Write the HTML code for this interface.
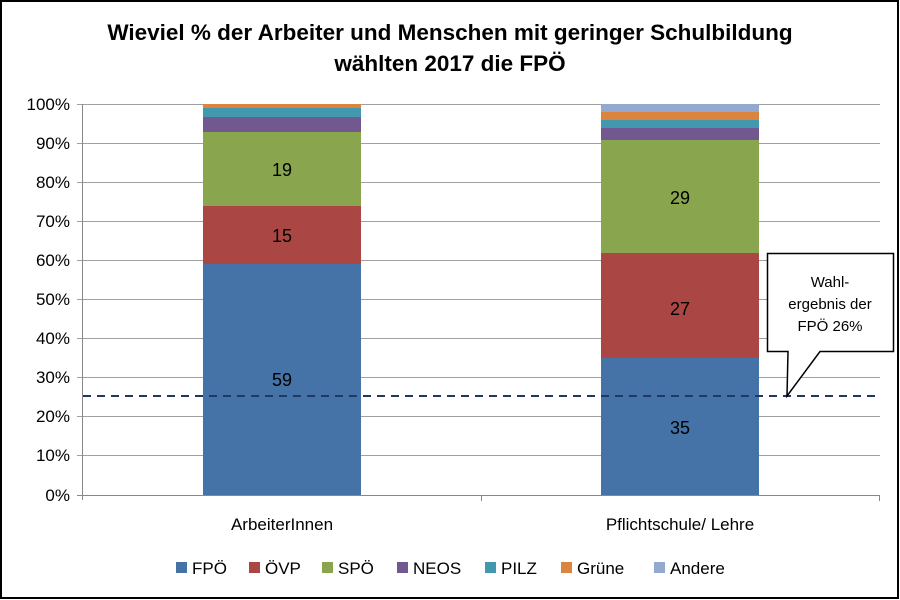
<!DOCTYPE html>
<html><head><meta charset="utf-8"><style>body{margin:0;background:#fff}svg{display:block}text{font-family:"Liberation Sans","DejaVu Sans",sans-serif}</style></head>
<body>
<svg width="900" height="600" viewBox="0 0 900 600">
<rect x="1" y="1" width="897" height="597" fill="#fff" stroke="#000" stroke-width="2"/>
<text x="450" y="40" text-anchor="middle" font-size="22.5" font-weight="bold">Wieviel % der Arbeiter und Menschen mit geringer Schulbildung</text>
<text x="450" y="71" text-anchor="middle" font-size="22.5" font-weight="bold">wählten 2017 die FPÖ</text>
<g stroke="#a0a0a0" stroke-width="1">
<line x1="77" y1="104.5" x2="880" y2="104.5"/><line x1="77" y1="143.5" x2="880" y2="143.5"/><line x1="77" y1="182.5" x2="880" y2="182.5"/><line x1="77" y1="221.5" x2="880" y2="221.5"/><line x1="77" y1="260.5" x2="880" y2="260.5"/><line x1="77" y1="299.5" x2="880" y2="299.5"/><line x1="77" y1="338.5" x2="880" y2="338.5"/><line x1="77" y1="377.5" x2="880" y2="377.5"/><line x1="77" y1="416.5" x2="880" y2="416.5"/><line x1="77" y1="455.5" x2="880" y2="455.5"/>
<line x1="77" y1="495.5" x2="880" y2="495.5" stroke="#888"/>
<line x1="82.5" y1="104" x2="82.5" y2="500" stroke="#888"/>
<line x1="481.5" y1="495" x2="481.5" y2="501" stroke="#888"/><line x1="879.5" y1="495" x2="879.5" y2="501" stroke="#888"/>
</g>
<g font-size="17" text-anchor="end" fill="#000">
<text x="70" y="110">100%</text><text x="70" y="149">90%</text><text x="70" y="188">80%</text><text x="70" y="227">70%</text><text x="70" y="266">60%</text><text x="70" y="305">50%</text><text x="70" y="344">40%</text><text x="70" y="383">30%</text><text x="70" y="422">20%</text><text x="70" y="461">10%</text><text x="70" y="501">0%</text>
</g>
<rect x="203" y="264" width="158" height="231" fill="#4572a7"/>
<rect x="203" y="206" width="158" height="58" fill="#aa4643"/>
<rect x="203" y="132" width="158" height="74" fill="#89a54e"/>
<rect x="203" y="117" width="158" height="15" fill="#71588f"/>
<rect x="203" y="108" width="158" height="9" fill="#4198af"/>
<rect x="203" y="104" width="158" height="4" fill="#db843d"/>
<rect x="601" y="358" width="158" height="137" fill="#4572a7"/>
<rect x="601" y="253" width="158" height="105" fill="#aa4643"/>
<rect x="601" y="140" width="158" height="113" fill="#89a54e"/>
<rect x="601" y="128" width="158" height="12" fill="#71588f"/>
<rect x="601" y="120" width="158" height="8" fill="#4198af"/>
<rect x="601" y="112" width="158" height="8" fill="#db843d"/>
<rect x="601" y="104" width="158" height="8" fill="#93a9cf"/>
<g font-size="18" text-anchor="middle">
<text x="282" y="176">19</text><text x="282" y="242">15</text><text x="282" y="386">59</text>
<text x="680" y="204">29</text><text x="680" y="315">27</text><text x="680" y="434">35</text>
</g>
<line x1="83" y1="396" x2="880" y2="396" stroke="#1f3864" stroke-width="2" stroke-dasharray="8,6"/>
<path d="M767.5 253.5 H893.5 V351.5 H820 L787 396 L788 351.5 H767.5 Z" fill="#fff" stroke="#000" stroke-width="1.5"/>
<g font-size="15" text-anchor="middle"><text x="830" y="287">Wahl-</text><text x="830" y="309">ergebnis der</text><text x="830" y="331">FPÖ 26%</text></g>
<g font-size="17" text-anchor="middle"><text x="282" y="530">ArbeiterInnen</text><text x="680" y="530">Pflichtschule/ Lehre</text></g>
<g font-size="17">
<rect x="176" y="562" width="11" height="11" fill="#4572a7"/><text x="192" y="574">FPÖ</text>
<rect x="249" y="562" width="11" height="11" fill="#aa4643"/><text x="265" y="574">ÖVP</text>
<rect x="322" y="562" width="11" height="11" fill="#89a54e"/><text x="338" y="574">SPÖ</text>
<rect x="397" y="562" width="11" height="11" fill="#71588f"/><text x="413" y="574">NEOS</text>
<rect x="485" y="562" width="11" height="11" fill="#4198af"/><text x="501" y="574">PILZ</text>
<rect x="561" y="562" width="11" height="11" fill="#db843d"/><text x="577" y="574">Grüne</text>
<rect x="654" y="562" width="11" height="11" fill="#93a9cf"/><text x="670" y="574">Andere</text>
</g>
</svg>
</body></html>
